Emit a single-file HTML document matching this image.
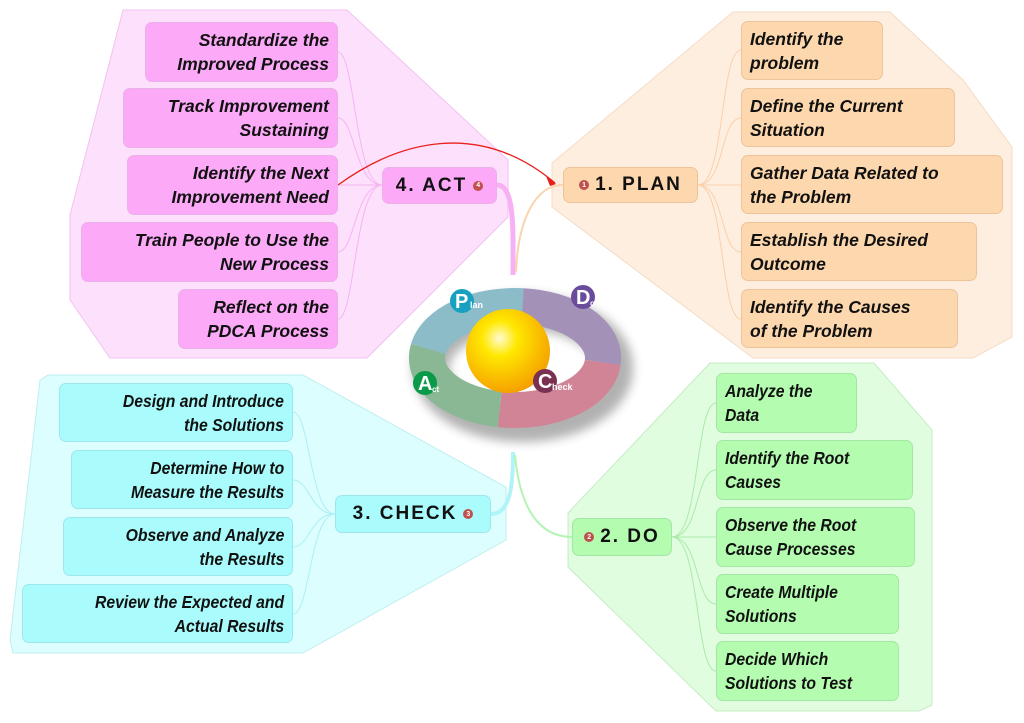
<!DOCTYPE html>
<html><head><meta charset="utf-8"><style>
body{margin:0;width:1024px;height:723px;background:#fff;position:relative;overflow:hidden;font-family:"Liberation Sans",sans-serif}
.b{position:absolute;box-sizing:border-box;border-radius:7px;font-weight:bold;font-style:italic;font-size:17.5px;line-height:24px;padding:5px 8px;color:#111;white-space:nowrap}
.act{background:#fcaaf8;border:1px solid #eab0e8;text-align:right}
.plan{background:#fdd7ad;border:1px solid #eec39a;text-align:left}
.chk{background:#aafcfc;border:1px solid #9ee6ee;text-align:right;font-style:normal}
.chk span{display:inline-block;transform:scaleX(.9);transform-origin:right;font-style:italic}
.do{background:#b4fcb0;border:1px solid #a4e6a4;text-align:left}
.do span{display:inline-block;transform:scaleX(.9);transform-origin:left}
.t{position:absolute;box-sizing:border-box;border-radius:7px;font-weight:bold;font-size:19px;letter-spacing:2px;color:#111;display:flex;align-items:center;justify-content:center;gap:6px}
.dot{width:10px;height:10px;border-radius:50%;background:#c0504d;color:#fff;font-size:7px;letter-spacing:0;display:inline-flex;align-items:center;justify-content:center}
svg{position:absolute;left:0;top:0}
</style></head><body>
<svg width="1024" height="723">
<polygon points="123,10 347,10 508,160 508,217 367,358 110,358 70,300 70,215" fill="#fde0fc" stroke="#f2c2f0"/>
<polygon points="733,12 890,12 963,80 1012,147 1012,337 973,358 753,358 552,207 552,163" fill="#feeedf" stroke="#f4dcc6"/>
<polygon points="48,375 303,375 506,487 506,540 303,653 13,653 10,640 40,380" fill="#dcfefe" stroke="#c0eeee"/>
<polygon points="710,363 874,363 932,430 932,705 919,711 716,711 568,567 568,513" fill="#e0fde0" stroke="#c4ecc4"/>
<g fill="none" stroke-width="1">
<g stroke="#f6b4f2">
<path d="M382,185 C355,185 355,52 338,52"/><path d="M382,185 C355,185 355,118 338,118"/><path d="M382,185 L338,185"/><path d="M382,185 C355,185 355,252 338,252"/><path d="M382,185 C355,185 355,319 338,319"/>
</g>
<g stroke="#f9d0aa">
<path d="M698,185 C725,185 720,50 741,50"/><path d="M698,185 C725,185 720,118 741,118"/><path d="M698,185 L741,185"/><path d="M698,185 C725,185 720,252 741,252"/><path d="M698,185 C725,185 720,319 741,319"/>
</g>
<g stroke="#aaf0f4">
<path d="M335,514 C310,514 310,412 293,412"/><path d="M335,514 C310,514 310,480 293,480"/><path d="M335,514 C310,514 310,547 293,547"/><path d="M335,514 C310,514 310,614 293,614"/>
</g>
<g stroke="#aaeaaa">
<path d="M672,537 C700,537 695,403 716,403"/><path d="M672,537 C700,537 695,470 716,470"/><path d="M672,537 L716,537"/><path d="M672,537 C700,537 695,604 716,604"/><path d="M672,537 C700,537 695,671 716,671"/>
</g>
</g>
<path d="M497,185 C515,185 513,230 513,275" stroke="#f7b0f4" stroke-width="5" fill="none"/>
<path d="M563,185 C535,185 518,220 516,272" stroke="#f8d4b0" stroke-width="2" fill="none"/>
<path d="M491,514 C512,514 513,480 513,452" stroke="#b0f4f8" stroke-width="4" fill="none"/>
<path d="M572,537 C540,537 520,510 515,455" stroke="#b4f4b4" stroke-width="2" fill="none"/>
<path d="M338,185 C400,140 480,120 555,183" stroke="#e8201c" stroke-width="1.3" fill="none"/>
<polygon points="556,184 546,176 550,186" fill="#e8201c"/>
<defs><radialGradient id="sp" cx="0.4" cy="0.35" r="0.7"><stop offset="0" stop-color="#fffbd0"/><stop offset=".3" stop-color="#ffe800"/><stop offset="1" stop-color="#f59a00"/></radialGradient>
<filter id="sh" x="-30%" y="-40%" width="160%" height="180%"><feGaussianBlur stdDeviation="5"/></filter></defs>
<ellipse cx="523" cy="368" rx="92" ry="56" fill="none" stroke="#555" stroke-width="36" opacity=".45" filter="url(#sh)"/>
<g fill="none" stroke-width="36">
<path d="M428.3,349 A88,52 0 0 1 522.7,306.2" stroke="#8bbcc8"/>
<path d="M522.7,306.2 A88,52 0 0 1 602.7,362.5" stroke="#a391b8"/>
<path d="M602.7,362.5 A88,52 0 0 1 499.7,409.2" stroke="#d08496"/>
<path d="M499.7,409.2 A88,52 0 0 1 428.3,349" stroke="#8ab894"/>
</g>
<circle cx="508" cy="351" r="42" fill="url(#sp)"/>
<g font-family="Liberation Sans" font-weight="bold" fill="#fff">
<circle cx="462" cy="301" r="12" fill="#18a0c0"/><text x="455" y="308" font-size="20">P</text><text x="470" y="308" font-size="9">lan</text>
<circle cx="583" cy="297" r="12" fill="#6a4c9c"/><text x="576" y="304" font-size="20">D</text><text x="590" y="306" font-size="8">o</text>
<circle cx="425" cy="383" r="12" fill="#0a9a4a"/><text x="418" y="390" font-size="20">A</text><text x="432" y="392" font-size="8">ct</text>
<circle cx="545" cy="381" r="12" fill="#7a3050"/><text x="538" y="388" font-size="20">C</text><text x="552" y="390" font-size="9">heck</text>
</g>
</svg>

<div class="b act" style="left:145px;top:22px;width:193px;height:60px">Standardize the<br>Improved Process</div>
<div class="b act" style="left:123px;top:88px;width:215px;height:60px">Track Improvement<br>Sustaining</div>
<div class="b act" style="left:127px;top:155px;width:211px;height:60px">Identify the Next<br>Improvement Need</div>
<div class="b act" style="left:81px;top:222px;width:257px;height:60px">Train People to Use the<br>New Process</div>
<div class="b act" style="left:178px;top:289px;width:160px;height:60px">Reflect on the<br>PDCA Process</div>
<div class="t" style="left:382px;top:167px;width:115px;height:37px;background:#fcaaf8;border:1px solid #eab0e8">4. ACT<span class="dot">4</span></div>

<div class="b plan" style="left:741px;top:21px;width:142px;height:59px">Identify the<br>problem</div>
<div class="b plan" style="left:741px;top:88px;width:214px;height:59px">Define the Current<br>Situation</div>
<div class="b plan" style="left:741px;top:155px;width:262px;height:59px">Gather Data Related to<br>the Problem</div>
<div class="b plan" style="left:741px;top:222px;width:236px;height:59px">Establish the Desired<br>Outcome</div>
<div class="b plan" style="left:741px;top:289px;width:217px;height:59px">Identify the Causes<br>of the Problem</div>
<div class="t" style="left:563px;top:167px;width:135px;height:36px;background:#fdd7ad;border:1px solid #eec39a"><span class="dot">1</span>1. PLAN</div>

<div class="b chk" style="left:59px;top:383px;width:234px;height:59px"><span>Design and Introduce<br>the Solutions</span></div>
<div class="b chk" style="left:71px;top:450px;width:222px;height:59px"><span>Determine How to<br>Measure the Results</span></div>
<div class="b chk" style="left:63px;top:517px;width:230px;height:59px"><span>Observe and Analyze<br>the Results</span></div>
<div class="b chk" style="left:22px;top:584px;width:271px;height:59px"><span>Review the Expected and<br>Actual Results</span></div>
<div class="t" style="left:335px;top:495px;width:156px;height:38px;background:#aafcfc;border:1px solid #9ee6ee">3. CHECK<span class="dot">3</span></div>

<div class="b do" style="left:716px;top:373px;width:141px;height:60px"><span>Analyze the<br>Data</span></div>
<div class="b do" style="left:716px;top:440px;width:197px;height:60px"><span>Identify the Root<br>Causes</span></div>
<div class="b do" style="left:716px;top:507px;width:199px;height:60px"><span>Observe the Root<br>Cause Processes</span></div>
<div class="b do" style="left:716px;top:574px;width:183px;height:60px"><span>Create Multiple<br>Solutions</span></div>
<div class="b do" style="left:716px;top:641px;width:183px;height:60px"><span>Decide Which<br>Solutions to Test</span></div>
<div class="t" style="left:572px;top:518px;width:100px;height:38px;background:#b4fcb0;border:1px solid #a4e6a4"><span class="dot">2</span>2. DO</div>
</body></html>
